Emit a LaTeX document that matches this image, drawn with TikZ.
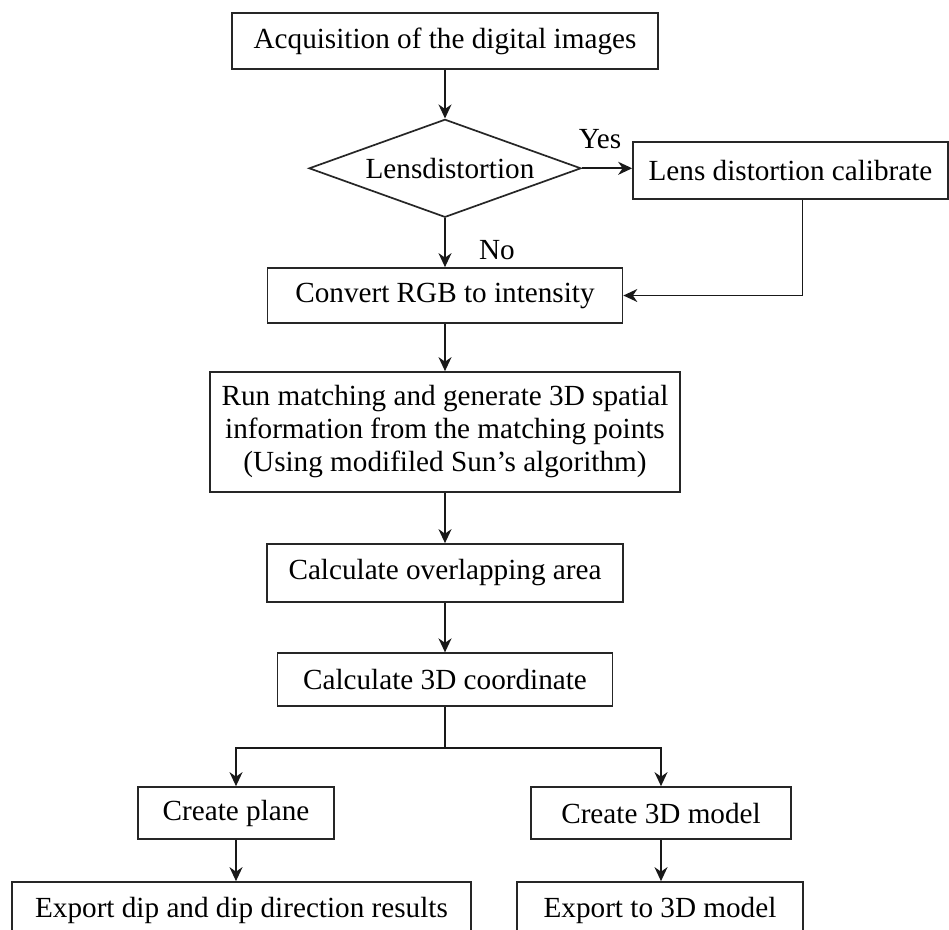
\documentclass[tikz,border=0pt]{standalone}
\usepackage{fontspec}
\setmainfont{Liberation Serif}
\usetikzlibrary{shapes.geometric,arrows.meta}
\begin{document}
\begin{tikzpicture}[x=1pt,y=-1pt,
  every node/.style={font=\fontsize{29.2}{33}\selectfont, text=black},
  box/.style={draw=black!85, line width=1.7pt, rectangle, inner sep=0pt, align=center},
  dia/.style={draw=black!85, line width=1.7pt, diamond, inner sep=0pt, aspect=2.77,
    minimum width=272, minimum height=98},
  arr/.style={draw=black!90, line width=1.7pt, -{Stealth[length=14pt,width=13pt,inset=4.5pt]}},
  ln/.style={draw=black!90, line width=1.7pt}]
\useasboundingbox (0,0) rectangle (949,929);
\clip (0,0) rectangle (949,929);
\fill[white] (0,0) rectangle (949,929);

\node[box, minimum width=426, minimum height=56] (acq) at (445,41) {Acquisition of the digital images};
\node[dia] (lens) at (445,168.3) {\hspace*{10pt}Lensdistortion};
\node[box, minimum width=315, minimum height=57] (calib) at (790.5,170.5) {Lens distortion calibrate};
\node[box, minimum width=355, minimum height=55] (conv) at (445,295.5) {Convert RGB to intensity};
\node[box, minimum width=470, minimum height=120] (run) at (445,432)
  {Run matching and generate 3D spatial\\information from the matching points\\(Using modifiled Sun’s algorithm)};
\node[box, minimum width=356, minimum height=58] (over) at (445,573) {Calculate overlapping area};
\node[box, minimum width=335, minimum height=53] (calc) at (445,679.7) {Calculate 3D coordinate};
\node[box, minimum width=196, minimum height=52] (plane) at (236,813) {Create plane};
\node[box, minimum width=260, minimum height=52] (model) at (661,813) {Create 3D model};
\node[box, minimum width=459, minimum height=56] (exdip) at (241.5,910) {Export dip and dip direction results};
\node[box, minimum width=286, minimum height=56] (ex3d) at (660,910) {Export to 3D model};

\node (yes) at (600,139) {Yes};
\node (no) at (497,250) {No};

\draw[arr] (acq.south) -- (lens.north);
\draw[arr] (lens.east) -- (lens.east -| calib.west);
\draw[arr] (lens.south) -- (conv.north);
\draw[arr] ([xshift=12pt]calib.south) |- (conv.east);
\draw[arr] (conv.south) -- (run.north);
\draw[arr] (run.south) -- (over.north);
\draw[arr] (over.south) -- (calc.north);
\draw[ln] (calc.south) -- ++(0,40.7) coordinate (br);
\draw[arr] (br) -| (plane.north);
\draw[arr] (br) -| (model.north);
\draw[arr] (plane.south) -- (plane.south |- exdip.north);
\draw[arr] (model.south) -- (model.south |- ex3d.north);
\end{tikzpicture}
\end{document}
